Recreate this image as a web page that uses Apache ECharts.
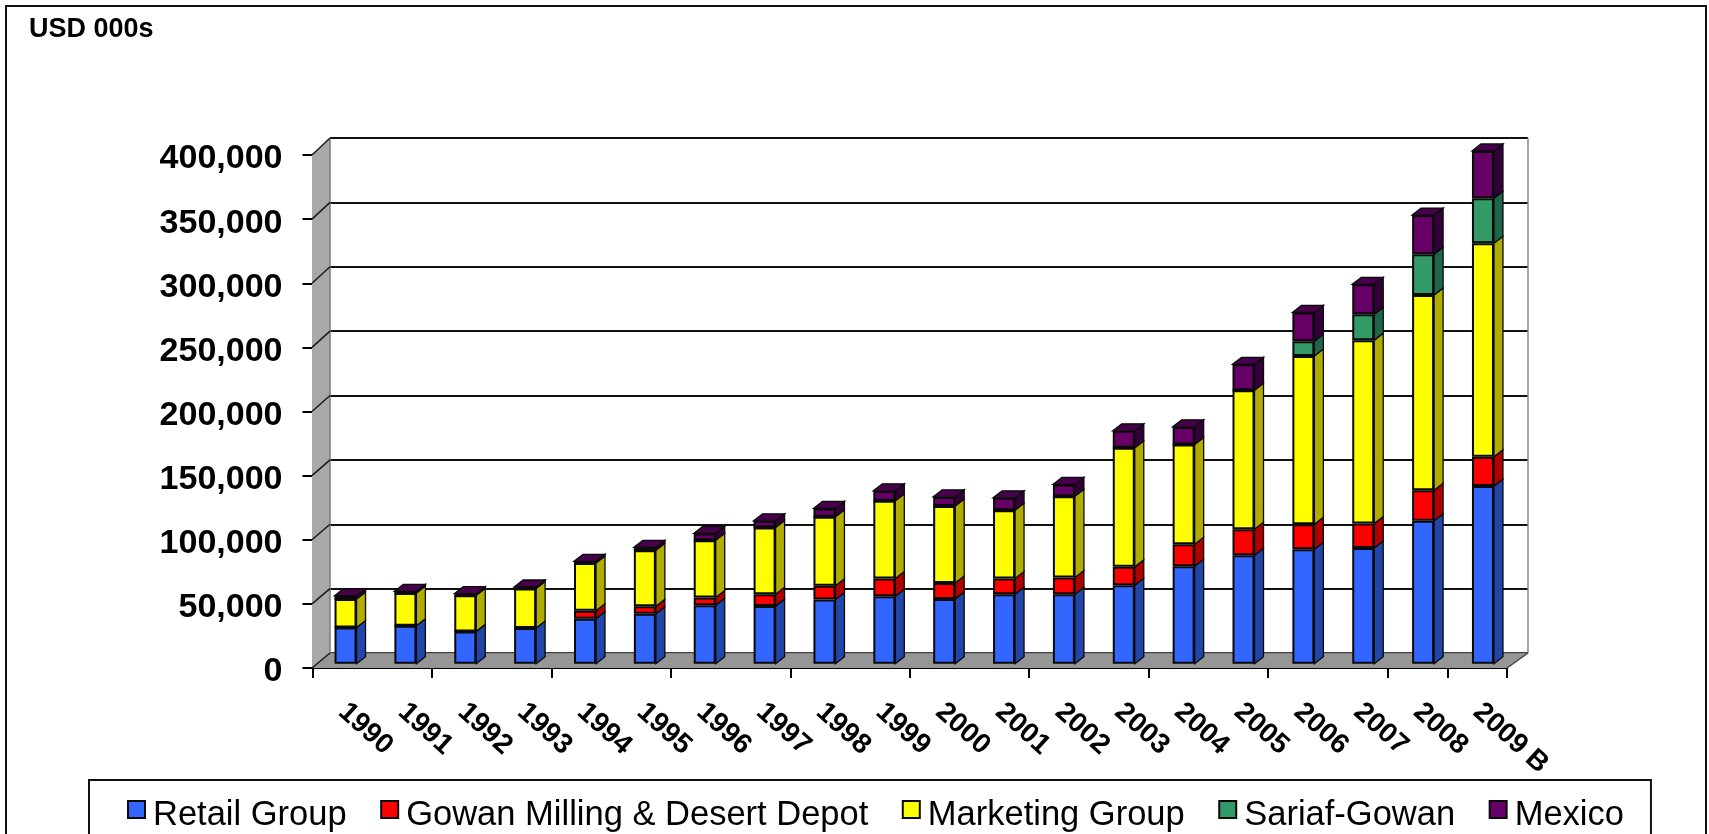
<!DOCTYPE html>
<html>
<head>
<meta charset="utf-8">
<title>USD 000s</title>
<style>html,body{margin:0;padding:0;background:#fff;overflow:hidden}#c{width:1709px;height:834px}</style>
<script src="https://cdn.jsdelivr.net/npm/echarts@6/dist/echarts.min.js"></script>
</head>
<body>
<div id="c"></div>
<script>
const years = ['1990','1991','1992','1993','1994','1995','1996','1997','1998','1999','2000','2001','2002','2003','2004','2005','2006','2007','2008','2009 B'];
const retail    = [28300,29600,25200,27800,35100,39000,45600,44900,50100,52600,50500,54200,54200,61200,76000,84600,89300,90300,111400,138500];
const milling   = [0,0,0,0,6200,5700,6000,9300,10600,13900,12500,12200,13000,14300,17200,20300,19500,19000,23900,22800];
const marketing = [22200,25500,28100,30900,37200,43700,44700,52000,53800,60500,59900,53300,63400,92800,77800,108400,131100,143000,152100,166500];
const sariaf    = [0,0,0,0,0,0,0,0,0,0,0,0,0,0,0,0,11600,20100,31800,35100];
const mexico    = [2500,1300,1300,1100,1300,2300,5300,5200,6600,7800,7200,9600,9200,13300,13700,20100,22400,23400,30600,36900];
const yTicks    = [0,50000,100000,150000,200000,250000,300000,350000,400000];

const seriesDefs = [
  {name:'Retail Group', values:retail, color:'#3366FF', side:'#2145A8'},
  {name:'Gowan Milling & Desert Depot', values:milling, color:'#FF0000', side:'#B00000'},
  {name:'Marketing Group', values:marketing, color:'#FFFF00', side:'#B0AD00'},
  {name:'Sariaf-Gowan', values:sariaf, color:'#339966', side:'#1F6648'},
  {name:'Mexico', values:mexico, color:'#660066', side:'#33003A'}
];

const FONT = '"Liberation Sans", Arial, sans-serif';
const BAR_W = 22, BAR_DX = 9, BAR_DY = 7;
const INK = '#0a0a0a';
const yMax = yTicks[yTicks.length-1], yStep = yTicks[1]-yTicks[0];

// rows for the 3D side/top faces: [category, base, top, seriesIndex, isTopOfStack]
const faceRows = [];
years.forEach((y,i)=>{
  let base = 0;
  seriesDefs.forEach((s,k)=>{
    const v = s.values[i];
    if (v > 0) faceRows.push([i, base, base+v, k, k===seriesDefs.length-1 ? 1 : 0]);
    base += v;
  });
});

function renderFaces(params, api){
  const i = api.value(0), b = api.value(1), t = api.value(2), k = api.value(3), isTop = api.value(4);
  const pb = api.coord([i,b]), pt = api.coord([i,t]);
  const xr = pb[0]+BAR_W/2, xl = pb[0]-BAR_W/2;
  const children = [{
    type:'polygon',
    shape:{points:[[xr,pb[1]],[xr+BAR_DX,pb[1]-BAR_DY],[xr+BAR_DX,pt[1]-BAR_DY],[xr,pt[1]]]},
    style:{fill:seriesDefs[k].side, stroke:INK, lineWidth:1.3}
  }];
  if (isTop) children.push({
    type:'polygon',
    shape:{points:[[xl,pt[1]],[xl+BAR_DX,pt[1]-BAR_DY],[xr+BAR_DX,pt[1]-BAR_DY],[xr,pt[1]]]},
    style:{fill:'#47004A', stroke:INK, lineWidth:1.3}
  });
  return {type:'group', children};
}

const WALL_DX = 18, WALL_DY = 15, WALL_DX_R = 21;
function renderWalls(params, api){
  const cs = params.coordSys;
  const L = cs.x, R = cs.x+cs.width, T = cs.y, B = cs.y+cs.height;
  const fl = L-WALL_DX, fr = R-WALL_DX_R, fb = B+WALL_DY, ft = T+17;
  const children = [
    {type:'polygon', shape:{points:[[L,T],[L,B],[fl,fb],[fl,ft]]}, style:{fill:'#A8A8A8', stroke:null}},
    {type:'polygon', shape:{points:[[L,B],[R,B],[fr,fb],[fl,fb]]}, style:{fill:'#969696', stroke:null}},
    {type:'line', shape:{x1:L,y1:T,x2:L,y2:B}, style:{stroke:'#7d7d7d', lineWidth:1.5}},
    {type:'line', shape:{x1:R,y1:T,x2:R,y2:B}, style:{stroke:'#8a8a8a', lineWidth:1.5}},
    {type:'line', shape:{x1:L,y1:B,x2:R,y2:B}, style:{stroke:'#6e6e6e', lineWidth:1.2}},
    {type:'line', shape:{x1:R,y1:B,x2:fr,y2:fb}, style:{stroke:'#444', lineWidth:1.5}}
  ];
  yTicks.forEach(v=>{
    const y = api.coord([0,v])[1];
    const frac = (yMax-v)/yMax;
    const fy = ft + frac*(fb-ft);
    children.push({type:'line', shape:{x1:L,y1:y,x2:fl,y2:fy}, style:{stroke:'#1a1a1a', lineWidth:1.5}});
  });
  return {type:'group', children};
}

const valueAxis = extra => Object.assign({type:'value', min:0, max:yMax, interval:yStep}, extra);
const hiddenY = g => valueAxis({gridIndex:g, axisLine:{show:false}, axisTick:{show:false}, axisLabel:{show:false}, splitLine:{show:false}});

const option = {
  animation:false,
  backgroundColor:'#fff',
  textStyle:{fontFamily:FONT},
  title:{text:'USD 000s', left:29, top:16, padding:0,
    textStyle:{fontFamily:FONT, fontSize:27, fontWeight:'bold', color:'#000', lineHeight:27}},
  legend:{
    data:seriesDefs.map(s=>s.name),
    left:89, top:780, padding:[18,27,30,38],
    orient:'horizontal', itemGap:33.5, itemWidth:17, itemHeight:17, icon:'rect',
    borderColor:'#111', borderWidth:2, backgroundColor:'#fff',
    selectedMode:false,
    formatter:name=>`{t|${name}}`,
    textStyle:{fontFamily:FONT, fontSize:34.5, color:'#000',
      rich:{t:{fontFamily:FONT, fontSize:34.5, color:'#000', padding:[12,0,0,3]}}}
  },
  grid:[
    {left:312.5, top:155, width:1194.5, height:513, containLabel:false},
    {left:330, top:138, width:1198, height:515},
    {left:315.6, top:150.7, width:1197.3, height:513}
  ],
  xAxis:[
    {type:'category', gridIndex:0, data:years, boundaryGap:true,
      axisLine:{show:true, lineStyle:{color:'#000', width:2}},
      axisTick:{show:true, interval:1, length:10, lineStyle:{color:'#000', width:2}},
      axisLabel:{interval:0, rotate:-42, margin:40, fontFamily:FONT, fontSize:28, fontWeight:'bold', color:'#000', hideOverlap:false},
      splitLine:{show:false}},
    {type:'category', gridIndex:1, data:years, show:false},
    {type:'category', gridIndex:2, data:years, show:false}
  ],
  yAxis:[
    valueAxis({gridIndex:0,
      axisLine:{show:true, lineStyle:{color:'#222', width:2}},
      axisTick:{show:true, length:10, lineStyle:{color:'#000', width:2}},
      axisLabel:{margin:30, color:'#000',
        formatter:v=>`{t|${v.toLocaleString('en-US')}}`,
        rich:{t:{fontFamily:FONT, fontSize:34, fontWeight:'bold', color:'#000', padding:[8,0,0,0]}}},
      splitLine:{show:false}}),
    valueAxis({gridIndex:1,
      axisLine:{show:false}, axisTick:{show:false}, axisLabel:{show:false},
      splitLine:{show:true, lineStyle:{color:'#111', width:2}}}),
    hiddenY(2)
  ],
  graphic:[{type:'rect', z:-1, silent:true, shape:{x:6,y:6,width:1700,height:900},
    style:{fill:null, stroke:'#111', lineWidth:2}}],
  series:[
    {type:'custom', name:'walls', xAxisIndex:1, yAxisIndex:1, z:1, silent:true, clip:false,
      data:[[0,0]], renderItem:renderWalls, encode:{x:0,y:1}},
    {type:'custom', name:'faces', xAxisIndex:2, yAxisIndex:2, z:3, silent:true, clip:false,
      data:faceRows, renderItem:renderFaces, encode:{x:0,y:[1,2]}},
    ...seriesDefs.map(s=>({
      type:'bar', name:s.name, stack:'total', data:s.values,
      xAxisIndex:2, yAxisIndex:2, z:4, barWidth:BAR_W, silent:true,
      itemStyle:{color:s.color, borderColor:INK, borderWidth:2}
    }))
  ]
};
const chart = echarts.init(document.getElementById('c'), null, {renderer:'canvas'});
chart.setOption(option);
</script>
</body>
</html>
